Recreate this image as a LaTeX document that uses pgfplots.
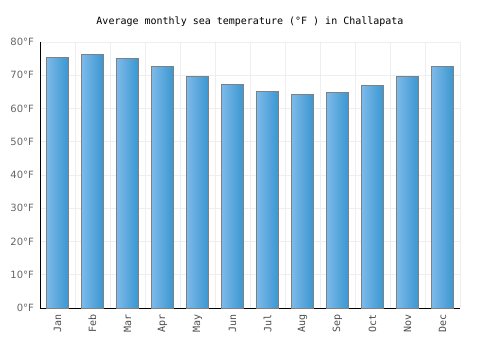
\documentclass[border=0pt]{standalone}
\usepackage{fontspec}
\setmainfont{DejaVu Sans}
\newfontfamily\monofont{DejaVu Sans Mono}
\usepackage{pgfplots}
\pgfplotsset{compat=1.18}
\definecolor{barL}{HTML}{7DBAEA}
\definecolor{barR}{HTML}{3A96D0}
\definecolor{gridc}{HTML}{EEEEEE}
\pgfplotsset{mybar/.style={ybar, bar width=17pt, bar shift=0pt, draw=black!50, line width=0.6pt, left color=barL, right color=barR}}
\begin{document}
\begin{tikzpicture}
\begin{axis}[
  at={(0,0)}, anchor=south west,
  scale only axis, width=315pt, height=199.5pt,
  xmin=-0.5, xmax=11.5, ymin=0, ymax=80,
  xtick={0,...,11},
  xticklabels={Jan,Feb,Mar,Apr,May,Jun,Jul,Aug,Sep,Oct,Nov,Dec},
  minor xtick={-0.5,0.5,...,11.5},
  ytick={0,10,...,80},
  /pgf/number format/assume math mode=true,
  yticklabel={\pgfmathprintnumber{\tick}°F},
  y tick label style={font=\fontsize{7.5}{9}\selectfont, text=black!60, xshift=-1pt},
  x tick label style={font=\monofont\fontsize{7.5}{9}\selectfont, text=black!70, rotate=90, anchor=east, xshift=-1pt},
  major tick length=0pt, minor tick length=0pt,
  xminorgrids, ymajorgrids, xmajorgrids=false,
  grid style={gridc, line width=0.6pt},
  minor grid style={gridc, line width=0.6pt},
  axis x line*=bottom, axis y line*=left,
  axis line style={black, line width=0.7pt},
  clip=false,
]
\addplot[mybar] coordinates {(0,75.3)};
\addplot[mybar] coordinates {(1,76.2)};
\addplot[mybar] coordinates {(2,75.0)};
\addplot[mybar] coordinates {(3,72.7)};
\addplot[mybar] coordinates {(4,69.6)};
\addplot[mybar] coordinates {(5,67.2)};
\addplot[mybar] coordinates {(6,65.1)};
\addplot[mybar] coordinates {(7,64.2)};
\addplot[mybar] coordinates {(8,64.8)};
\addplot[mybar] coordinates {(9,66.9)};
\addplot[mybar] coordinates {(10,69.6)};
\addplot[mybar] coordinates {(11,72.6)};
\node[font=\monofont\fontsize{7.5}{9}\selectfont, anchor=base] at (rel axis cs:0.5,1) [yshift=13pt] {Average monthly sea temperature (°F ) in Challapata};
\end{axis}
\useasboundingbox (-30pt,-31.5pt) rectangle (345pt,231pt);
\end{tikzpicture}
\end{document}
